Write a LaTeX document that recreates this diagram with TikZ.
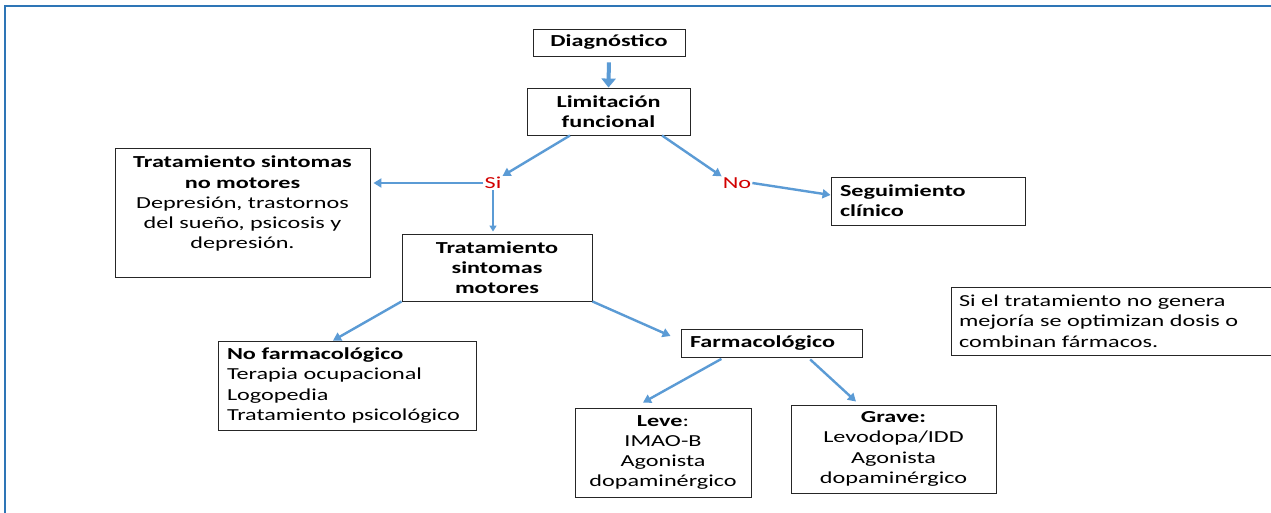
\documentclass[tikz,border=0pt]{standalone}
\usepackage{fontspec}
\setmainfont{Carlito}[FakeStretch=1.44]
\usetikzlibrary{arrows.meta,positioning}
\definecolor{flecha}{RGB}{91,155,213}
\definecolor{marco}{RGB}{46,117,182}
\definecolor{rojo}{RGB}{210,0,0}
\tikzset{
    caja/.style={draw=black!85,line width=0.9pt,inner sep=0pt,align=center,
        font=\fontsize{16.8}{20.3}\selectfont},
    cajaizq/.style={caja,align=left,text width=#1},
    etiqueta/.style={text=rojo,inner sep=1pt,font=\fontsize{16.8}{20.3}\selectfont},
    flechita/.style={draw=flecha,line width=2.4pt,-{Triangle[length=8pt,width=9pt]}},
}

\begin{document}
\begin{tikzpicture}[x=1pt,y=-1pt]
\clip (0,0) rectangle (1271,512);
\fill[white] (0,0) rectangle (1271,512);
\draw[marco,line width=2pt] (5,520) -- (5,6) -- (1280,6);
% cajas
\node[caja,minimum width=152,minimum height=27] (diag) at (609,42.5) {\textbf{Diagnóstico}};
\node[caja,minimum width=163,minimum height=47] (lim) at (608.5,111.5) {\textbf{Limitación}\\\textbf{funcional}};
\node[caja,minimum width=255,minimum height=129] (nomot) at (242.5,212.5) {};
\node[caja,draw=none,below=8pt of nomot.north] (nomottxt) {\textbf{Tratamiento sintomas}\\\textbf{no motores}\\Depresión, trastornos\\del sueño, psicosis y\\depresión.};
\node[etiqueta] (si) at (493,183) {Si};
\node[etiqueta] (no) at (737,183) {No};
\node[cajaizq=176,minimum width=194,minimum height=48] (seg) at (928,201) {\textbf{Seguimiento}\\\textbf{clínico}};
\node[caja,minimum width=190,minimum height=67] (mot) at (497,267.5) {\textbf{Tratamiento}\\\textbf{sintomas}\\\textbf{motores}};
\node[cajaizq=240,minimum width=258,minimum height=89] (nofarm) at (347,385.5) {\textbf{No farmacológico}\\Terapia ocupacional\\Logopedia\\Tratamiento psicológico};
\node[cajaizq=163,minimum width=181,minimum height=28] (farm) at (771.5,343) {\textbf{Farmacológico}};
\node[caja,minimum width=176,minimum height=89] (leve) at (663,452.5) {\textbf{Leve}:\\IMAO-B\\Agonista\\dopaminérgico};
\node[caja,minimum width=205,minimum height=88] (grave) at (893.5,449) {\textbf{Grave:}\\Levodopa/IDD\\Agonista\\dopaminérgico};
\node[cajaizq=323,minimum width=339,minimum height=68] (nota) at (1120.5,321) {Si el tratamiento no genera\\mejoría se optimizan dosis o\\combinan fármacos.};
% flechas
\draw[flechita,line width=4pt,-{Triangle[length=9pt,width=14pt]},shorten <=6pt] (diag.south) -- (lim.north);
\draw[flechita] ([xshift=-38.5pt]lim.south) -- (si.north east);
\draw[flechita,shorten >=3pt] (si.west) -- (nomot.east |- si.west);
\draw[flechita,line width=1.8pt,-{Triangle[length=6pt,width=7pt]},shorten >=2pt] (si.south) -- (si.south |- mot.north);
\draw[flechita] ([xshift=53.5pt]lim.south) -- (no.north west);
\draw[flechita] (no.east) -- ([yshift=6pt]seg.west);
\draw[flechita] (mot.south west) -- ([xshift=-14pt]nofarm.north);
\draw[flechita] (mot.south east) -- ([xshift=-10pt,yshift=7pt]farm.west);
\draw[flechita,shorten <=3pt] ([xshift=-47.5pt]farm.south) -- ([xshift=-20pt,yshift=5pt]leve.north);
\draw[flechita,shorten <=3pt] ([xshift=36.5pt]farm.south) -- ([xshift=-37.5pt,yshift=3pt]grave.north);
\end{tikzpicture}
\end{document}
